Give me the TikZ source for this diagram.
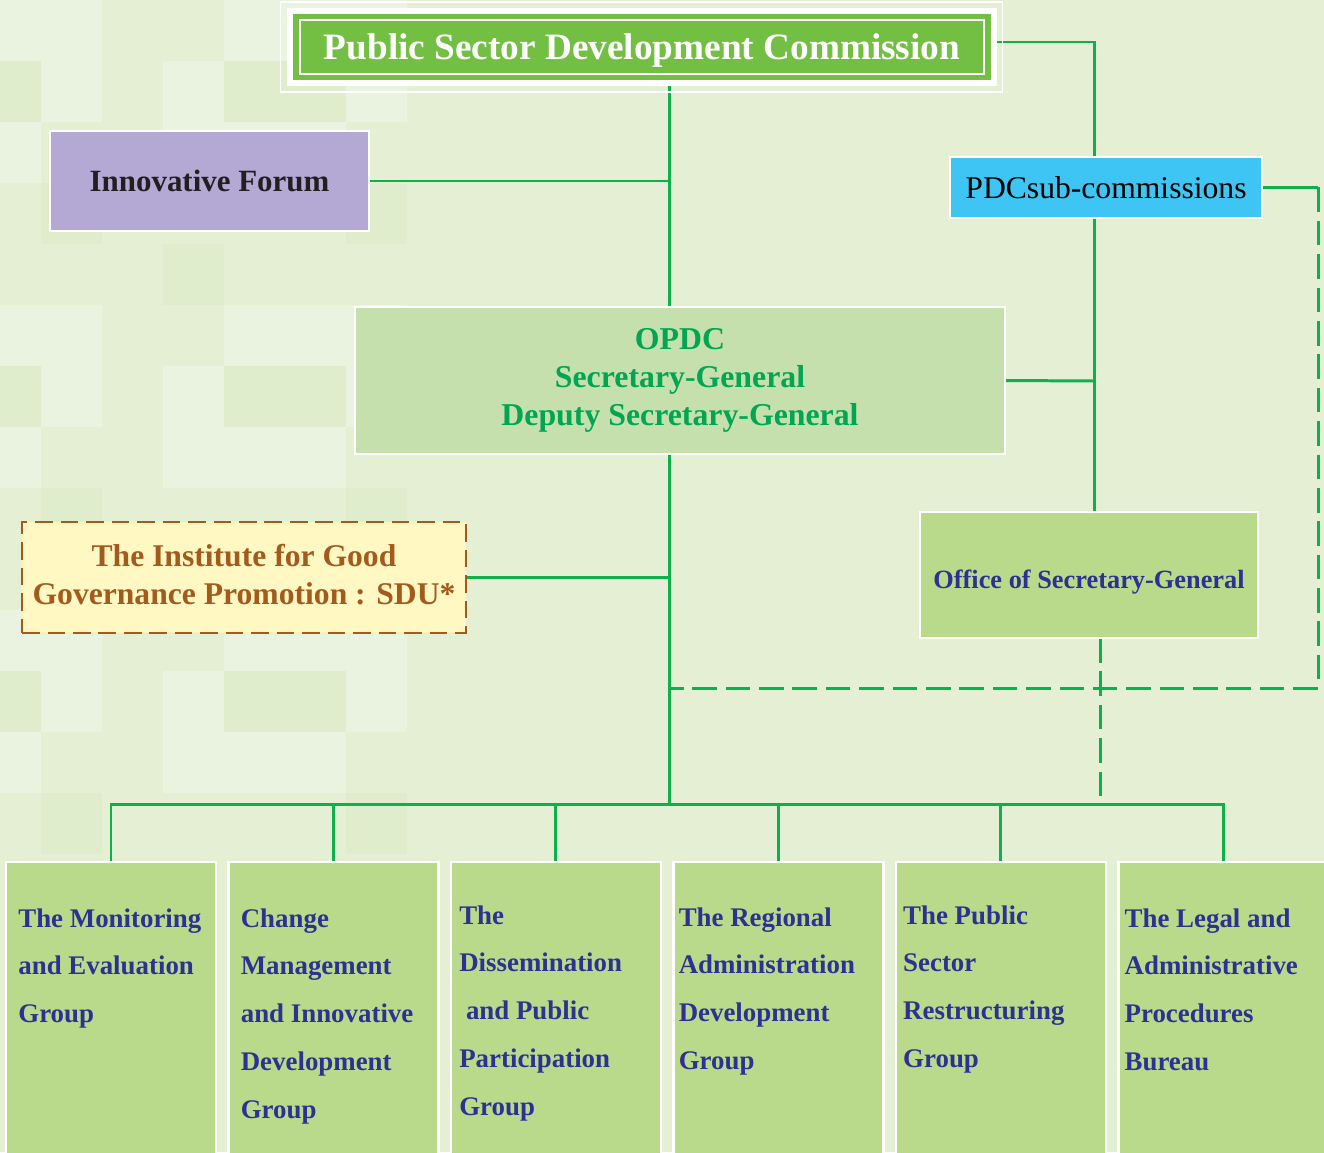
\documentclass[tikz,border=0pt]{standalone}
\usepackage{fontspec}
\setmainfont{Liberation Serif}
\usetikzlibrary{positioning,calc,backgrounds}
\definecolor{bgbase}{HTML}{E4EFD4}
\definecolor{bglight}{HTML}{E9F3DF}
\definecolor{bgdark}{HTML}{DFEDCC}
\definecolor{linegreen}{HTML}{0DB04B}
\definecolor{titlegreen}{HTML}{72BF44}
\definecolor{forumpurple}{HTML}{B4A9D4}
\definecolor{pdcblue}{HTML}{3EC5F4}
\definecolor{opdcfill}{HTML}{C5E0AD}
\definecolor{opdcgreen}{HTML}{00A651}
\definecolor{groupfill}{HTML}{B9DA8B}
\definecolor{navy}{HTML}{2E3192}
\definecolor{instfill}{HTML}{FFF8C2}
\definecolor{instbrown}{HTML}{A25B1D}
\definecolor{darktext}{HTML}{231F20}
\tikzset{
  box/.style={draw=white, line width=1.5pt, inner sep=0pt, outer sep=0pt, align=center},
  link/.style={draw=linegreen, line width=1.7pt},
  dlink/.style={link, dash pattern=on 14pt off 5pt},
  group/.style={box, fill=groupfill, minimum width=4.2cm, minimum height=6cm},
  grouptext/.style={anchor=north west, inner sep=0pt, align=left, text=navy,
    font=\bfseries\fontsize{15.3}{27.2}\selectfont}
}

\begin{document}
\begin{tikzpicture}[x=0.02cm, y=-0.02cm]
    \useasboundingbox (0,0) rectangle (1324,1152);

    % top
    \node[box, fill=titlegreen, line width=3.4pt, minimum width=14.08cm, minimum height=1.44cm,
          text=white, font=\bfseries\fontsize{21.2}{24}\selectfont] (title) at (642,47)
          {\raisebox{-2pt}[\height][\depth]{Public Sector Development Commission}};
    \draw[white, line width=0.6pt] ($(title.north west)+(-10,-9)$) rectangle ($(title.south east)+(9,9)$);
    \draw[white, line width=0.8pt] ($(title.north west)+(10,9)$) rectangle ($(title.south east)+(-10,-9)$);

    \node[box, fill=forumpurple, minimum width=6.38cm, minimum height=2cm, text=darktext,
          font=\bfseries\fontsize{17.6}{20}\selectfont] (forum) at (209.5,181) {Innovative Forum};
    \node[box, fill=pdcblue, minimum width=6.24cm, minimum height=1.22cm,
          font=\fontsize{18}{20}\selectfont] (pdc) at (1106,187.5) {PDCsub-commissions};

    % middle
    \node[box, fill=opdcfill, minimum width=13cm, minimum height=2.94cm, text=opdcgreen,
          font=\bfseries\fontsize{18.1}{21.8}\selectfont] (opdc) at (680,380.5)
          {OPDC\\Secretary-General\\Deputy Secretary-General};
    \node[box, draw=instbrown, dash pattern=on 10pt off 4.5pt, line width=1.6pt, fill=instfill,
          minimum width=8.88cm, minimum height=2.22cm, text=instbrown,
          font=\bfseries\fontsize{18}{21.5}\selectfont] (inst) at (244,577.5)
          {\raisebox{1.5pt}[\height][\depth]{The Institute for Good}\\
           \raisebox{1.5pt}[\height][\depth]{Governance Promotion : SDU*}};
    \node[box, fill=groupfill, minimum width=6.76cm, minimum height=2.52cm, text=navy,
          font=\bfseries\fontsize{15}{18}\selectfont] (office) at (1089,575)
          {\raisebox{-4pt}[\height][\depth]{Office of Secretary-General}};

    % groups
    \node[group] (g1) at (111,1012) {};
    \node[group, right=0.25cm of g1] (g2) {};
    \node[group, right=0.25cm of g2] (g3) {};
    \node[group, right=0.25cm of g3] (g4) {};
    \node[group, right=0.25cm of g4] (g5) {};
    \node[group, right=0.25cm of g5] (g6) {};
    \node[grouptext] (t1) at ([shift={(12,46)}]g1.north west) {The Monitoring\\and Evaluation\\Group};
    \node[grouptext] (t2) at ([shift={(12,46)}]g2.north west) {Change\\Management\\and Innovative\\Development\\Group};
    \node[grouptext] (t3) at ([shift={(8,43)}]g3.north west) {The\\Dissemination\\\hspace{0.25em}and Public\\Participation\\Group};
    \node[grouptext] (t4) at ([shift={(5,45)}]g4.north west) {The Regional\\Administration\\Development\\Group};
    \node[grouptext] (t5) at ([shift={(7,43)}]g5.north west) {The Public\\Sector\\Restructuring\\Group};
    \node[grouptext] (t6) at ([shift={(6,46)}]g6.north west) {The Legal and\\Administrative\\Procedures\\Bureau};

    \coordinate (tx) at (669,579);
    \coordinate (rx) at (1094,381);
    \coordinate (bus) at (669,804);
    \coordinate (dc) at (1318,688);
    \coordinate (ox) at (1100,688);

    \begin{scope}[on background layer]
      \fill[bgbase] (0,0) rectangle (1324,1152);
      \foreach \i in {0,...,7}{
        \foreach \j in {0,...,13}{
          \pgfmathtruncatemacro\k{mod(\i*\i+3*\j+\i*\j,5)}
          \ifnum\k<2 \fill[bglight] (\i*61-20,\j*61) rectangle ++(61,61);\fi
          \ifnum\k=3 \fill[bgdark] (\i*61-20,\j*61) rectangle ++(61,61);\fi
        }
      }
      \draw[link] (title.south -| tx) -- (opdc.north -| tx);
      \draw[link] (forum.east) -- (forum.east -| tx);
      \draw[link] ([yshift=0.1cm]title.east) -| (pdc.north -| rx);
      \draw[link] (pdc.south -| rx) -- (office.north -| rx);
      \draw[link] (opdc.east) -- (rx);
      \draw[link] (opdc.south -| tx) -- (bus);
      \draw[link] (inst.east) -- (inst.east -| tx);
      \draw[link] (g1.north) |- (bus) -| (g6.north);
      \draw[link] (g2.north) -- (g2.north |- bus);
      \draw[link] (g3.north) -- (g3.north |- bus);
      \draw[link] (g4.north) -- (g4.north |- bus);
      \draw[link] (g5.north) -- (g5.north |- bus);
      \draw[link] (pdc.east) -- (pdc.east -| dc);
      \draw[dlink] (pdc.east -| dc) -- (dc) -- (dc -| tx);
      \draw[dlink] (office.south -| ox) -- (bus -| ox);
    \end{scope}
\end{tikzpicture}
\end{document}
